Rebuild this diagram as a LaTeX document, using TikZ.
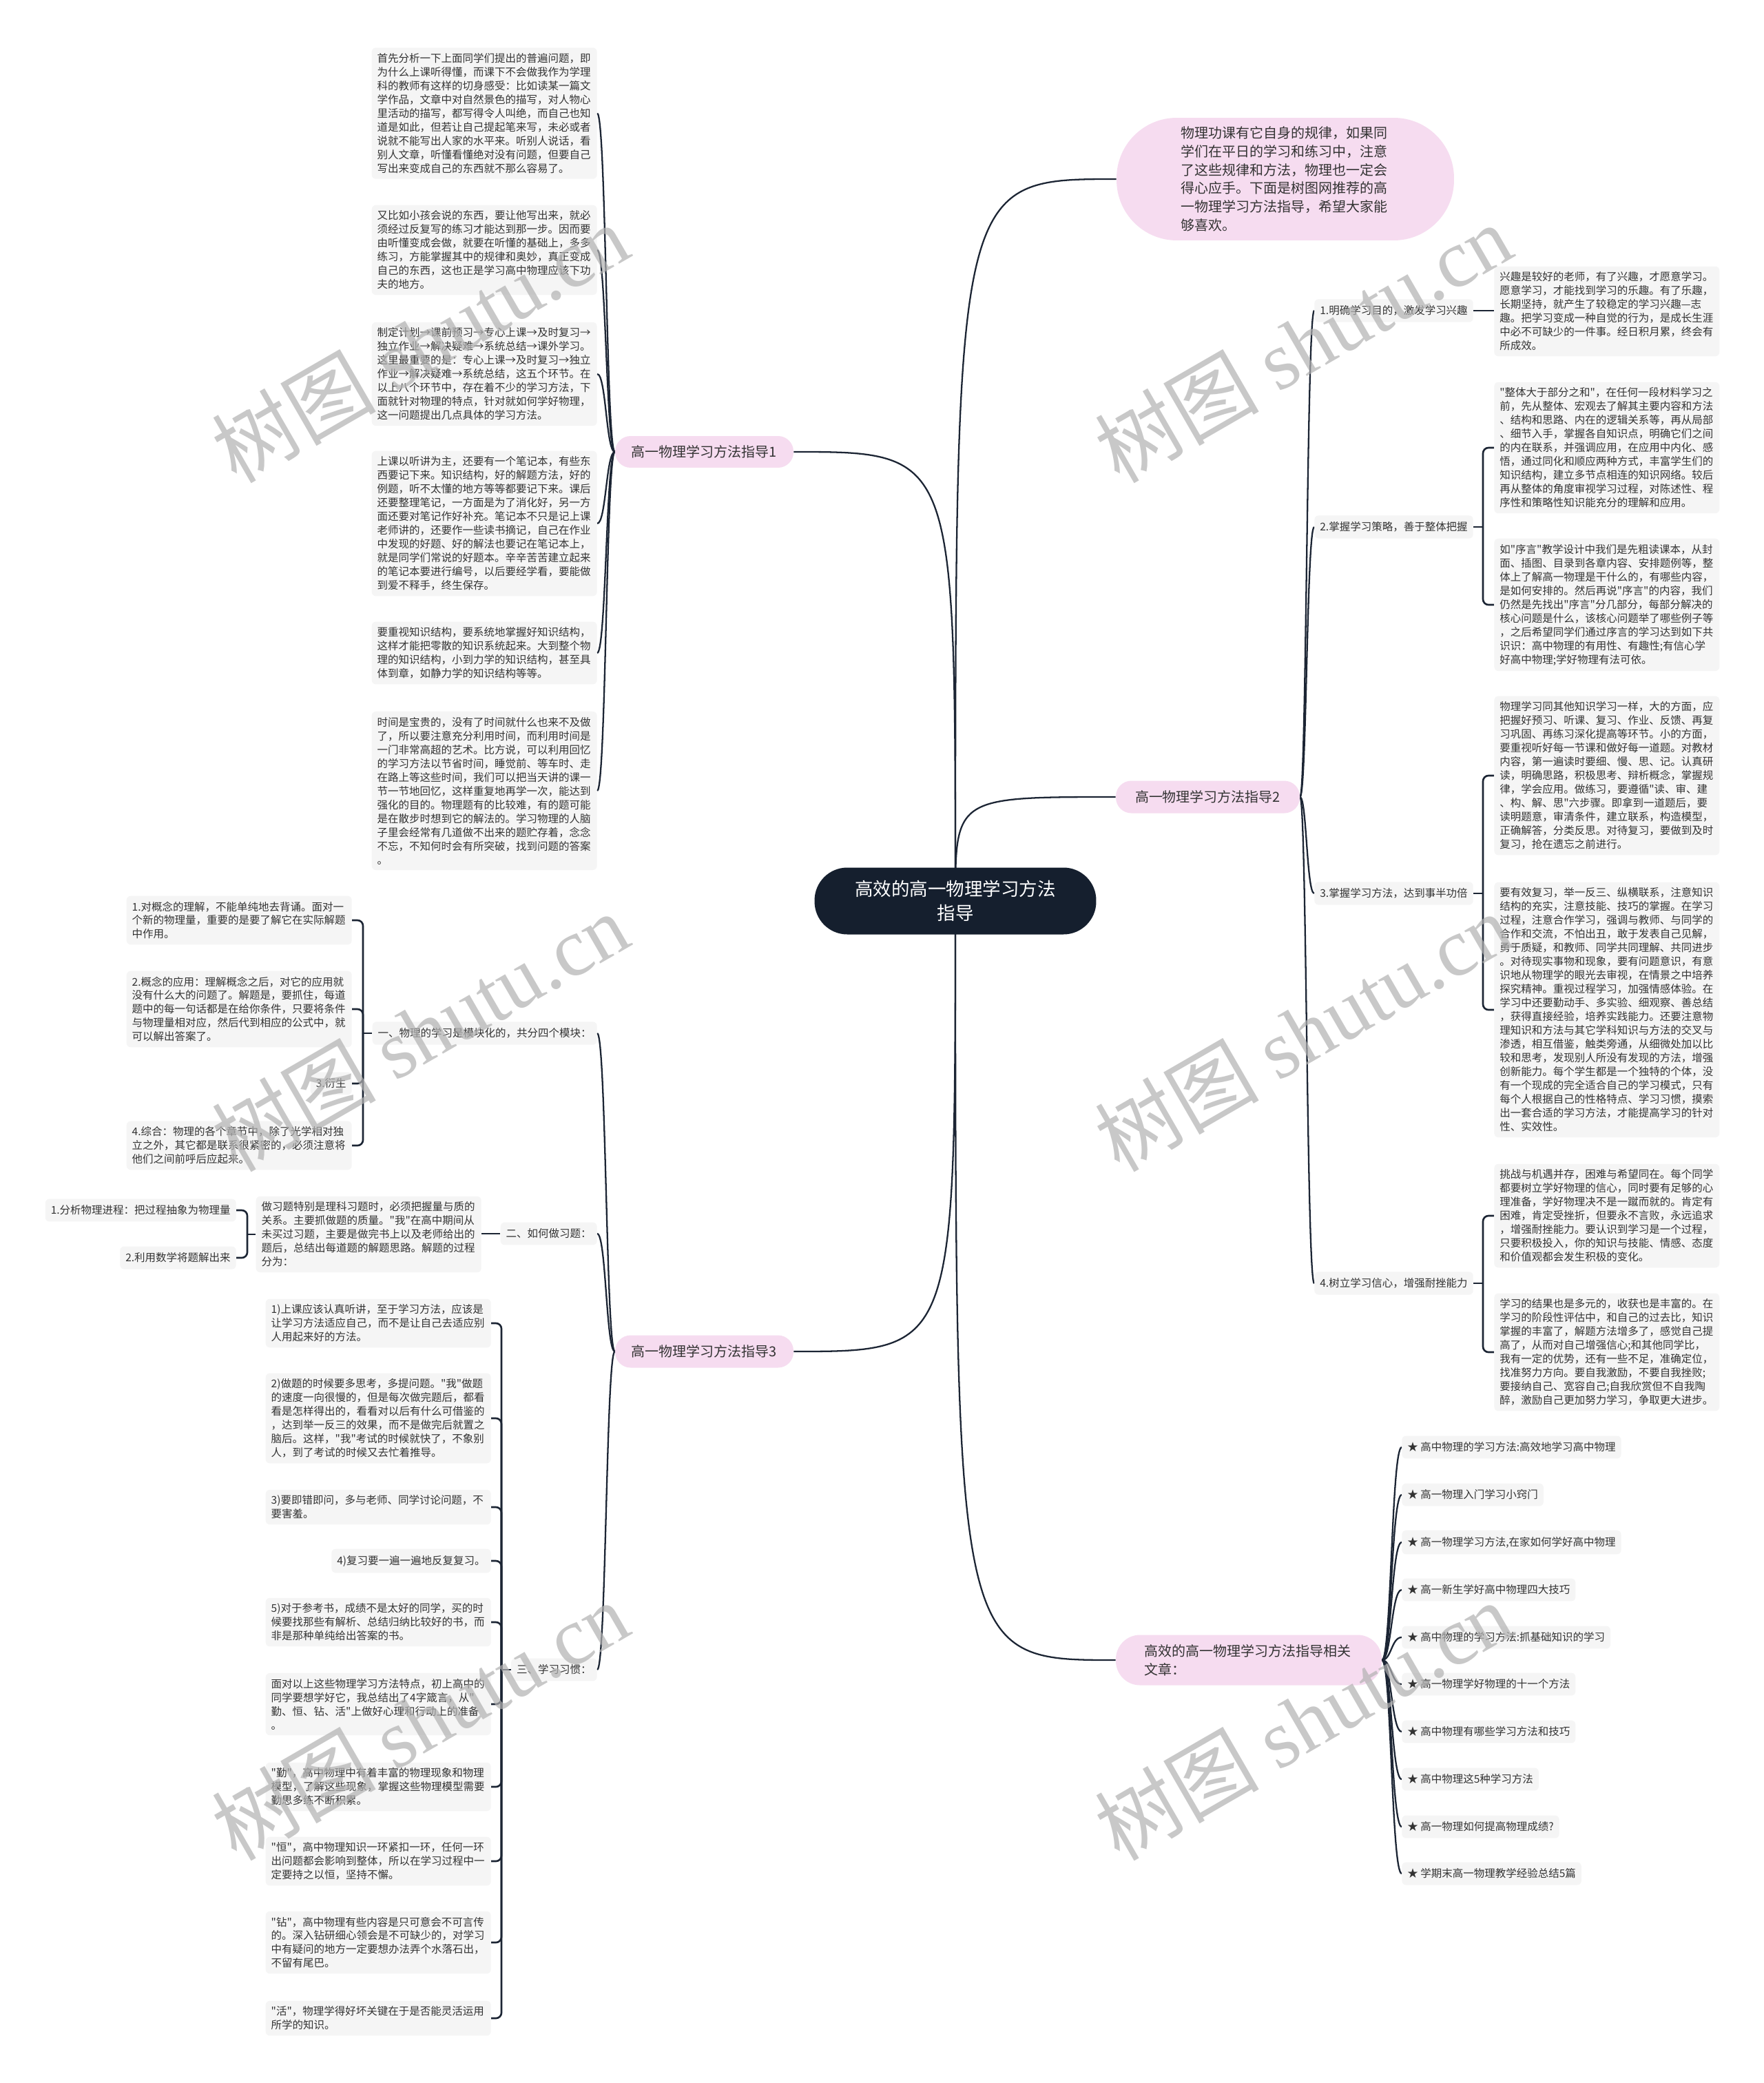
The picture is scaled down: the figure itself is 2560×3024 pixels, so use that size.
\documentclass[tikz,border=0pt]{standalone}
\usepackage{fontspec}
\newfontfamily\cjkf{Noto Sans CJK SC}
\newfontfamily\wmlatin{Liberation Serif}
\usetikzlibrary{calc}
\definecolor{pinkf}{RGB}{246,220,240}
\definecolor{boxg}{RGB}{245,245,245}
\definecolor{txt}{RGB}{51,51,51}
\definecolor{lnc}{RGB}{28,37,52}
\definecolor{navy}{RGB}{21,31,46}
\pgfdeclarelayer{bg}
\pgfsetlayers{bg,main}
\newcommand\bodyf{\cjkf\fontsize{8.82pt}{11.38pt}\selectfont}
\newcommand\pillf{\cjkf\fontsize{11.38pt}{15.2pt}\selectfont}
\newcommand\rootf{\cjkf\fontsize{15.08pt}{19.92pt}\selectfont}
\newcommand\wmf{\cjkf\fontsize{68pt}{68pt}\selectfont}
\newcommand\myscurve[3]{\draw[conn] (#1) .. controls (#2 |- #1) and (#2 |- #3) .. (#3);}
\newcommand\mybrk[3]{\draw[brk, rounded corners=0.16cm] (#2 |- #1) |- (#3);}
\newcommand\mystub[2]{\draw[brk] (#1) -- (#2 |- #1);}
\tikzset{
 conn/.style={draw=lnc, line width=1.3pt},
 brk/.style={draw=lnc, line width=1.5pt},
 pinkpill/.style={fill=pinkf, text=txt, font=\pillf, inner sep=0pt},
 lbl/.style={fill=boxg, text=txt, font=\bodyf, rounded corners=0.12cm, inner xsep=0.16cm, inner ysep=0.185cm},
 tbox/.style={fill=boxg, text=txt, font=\bodyf, rounded corners=0.12cm, inner xsep=0.16cm, inner ysep=0.16cm, align=left, text width=6.22cm},
 wm/.style={text=black!30, opacity=0.7, rotate=30, anchor=base west, inner sep=0pt},
}
\begin{document}
\begin{tikzpicture}[x=0.02cm, y=-0.02cm]
\useasboundingbox (0,0) rectangle (2560,3024);
% ---------- root and first-level ----------
\node[fill=navy, text=white, font=\rootf, rounded corners=0.95cm, minimum width=8.18cm, minimum height=1.94cm, align=center, inner sep=0pt] (root) at (1387,1308) {高效的高一物理学习方法\\指导};
\node[pinkpill, rounded corners=1.75cm, minimum width=9.8cm, minimum height=3.56cm, align=left, text width=6.05cm] (intro) at (1866,260) {物理功课有它自身的规律，如果同\\学们在平日的学习和练习中，注意\\了这些规律和方法，物理也一定会\\得心应手。下面是树图网推荐的高\\一物理学习方法指导，希望大家能\\够喜欢。};
\node[pinkpill, rounded corners=0.45cm, minimum width=5.34cm, minimum height=0.94cm] (zd2) at (1753.5,1157) {高一物理学习方法指导2};
\node[pinkpill, rounded corners=0.7cm, minimum width=7.72cm, minimum height=1.46cm, align=left, text width=6.05cm] (rel) at (1813,2410) {高效的高一物理学习方法指导相关\\文章：};
\node[pinkpill, rounded corners=0.45cm, minimum width=5.18cm, minimum height=0.92cm] (zd1) at (1022.5,656) {高一物理学习方法指导1};
\node[pinkpill, rounded corners=0.45cm, minimum width=5.18cm, minimum height=0.94cm] (zd3) at (1022.5,1962) {高一物理学习方法指导3};
% ---------- right: 指导2 ----------
\node[lbl, anchor=west] (s1) at (1908,451) {1.明确学习目的，激发学习兴趣};
\node[lbl, anchor=west] (s2) at (1908,765) {2.掌握学习策略，善于整体把握};
\node[lbl, anchor=west] (s3) at (1908,1297) {3.掌握学习方法，达到事半功倍};
\node[lbl, anchor=west] (s4) at (1908,1863) {4.树立学习信心，增强耐挫能力};
\node[tbox, anchor=west] (r1) at (2169,452) {兴趣是较好的老师，有了兴趣，才愿意学习。\\愿意学习，才能找到学习的乐趣。有了乐趣，\\长期坚持，就产生了较稳定的学习兴趣—志\\趣。把学习变成一种自觉的行为，是成长生涯\\中必不可缺少的一件事。经日积月累，终会有\\所成效。};
\node[tbox, anchor=west] (r2a) at (2169,650) {"整体大于部分之和"，在任何一段材料学习之\\前，先从整体、宏观去了解其主要内容和方法\\、结构和思路、内在的逻辑关系等，再从局部\\、细节入手，掌握各自知识点，明确它们之间\\的内在联系，并强调应用，在应用中内化、感\\悟，通过同化和顺应两种方式，丰富学生们的\\知识结构，建立多节点相连的知识网络。较后\\再从整体的角度审视学习过程，对陈述性、程\\序性和策略性知识能充分的理解和应用。};
\node[tbox, anchor=west] (r2b) at (2169,878) {如"序言"教学设计中我们是先粗读课本，从封\\面、插图、目录到各章内容、安排题例等，整\\体上了解高一物理是干什么的，有哪些内容，\\是如何安排的。然后再说"序言"的内容，我们\\仍然是先找出"序言"分几部分，每部分解决的\\核心问题是什么，该核心问题举了哪些例子等\\，之后希望同学们通过序言的学习达到如下共\\识识：高中物理的有用性、有趣性;有信心学\\好高中物理;学好物理有法可依。};
\node[tbox, anchor=west] (r3a) at (2169,1126) {物理学习同其他知识学习一样，大的方面，应\\把握好预习、听课、复习、作业、反馈、再复\\习巩固、再练习深化提高等环节。小的方面，\\要重视听好每一节课和做好每一道题。对教材\\内容，第一遍读时要细、慢、思、记。认真研\\读，明确思路，积极思考、辩析概念，掌握规\\律，学会应用。做练习，要遵循"读、审、建\\、构、解、思"六步骤。即拿到一道题后，要\\读明题意，审清条件，建立联系，构造模型，\\正确解答，分类反思。对待复习，要做到及时\\复习，抢在遗忘之前进行。};
\node[tbox, anchor=west] (r3b) at (2169,1466) {要有效复习，举一反三、纵横联系，注意知识\\结构的充实，注意技能、技巧的掌握。在学习\\过程，注意合作学习，强调与教师、与同学的\\合作和交流，不怕出丑，敢于发表自己见解，\\勇于质疑，和教师、同学共同理解、共同进步\\。对待现实事物和现象，要有问题意识，有意\\识地从物理学的眼光去审视，在情景之中培养\\探究精神。重视过程学习，加强情感体验。在\\学习中还要勤动手、多实验、细观察、善总结\\，获得直接经验，培养实践能力。还要注意物\\理知识和方法与其它学科知识与方法的交叉与\\渗透，相互借鉴，触类旁通，从细微处加以比\\较和思考，发现别人所没有发现的方法，增强\\创新能力。每个学生都是一个独特的个体，没\\有一个现成的完全适合自己的学习模式，只有\\每个人根据自己的性格特点、学习习惯，摸索\\出一套合适的学习方法，才能提高学习的针对\\性、实效性。};
\node[tbox, anchor=west] (r4a) at (2169,1765) {挑战与机遇并存，困难与希望同在。每个同学\\都要树立学好物理的信心，同时要有足够的心\\理准备，学好物理决不是一蹴而就的。肯定有\\困难，肯定受挫折，但要永不言败，永远追求\\，增强耐挫能力。要认识到学习是一个过程，\\只要积极投入，你的知识与技能、情感、态度\\和价值观都会发生积极的变化。};
\node[tbox, anchor=west] (r4b) at (2169,1963) {学习的结果也是多元的，收获也是丰富的。在\\学习的阶段性评估中，和自己的过去比，知识\\掌握的丰富了，解题方法增多了，感觉自己提\\高了，从而对自己增强信心;和其他同学比，\\我有一定的优势，还有一些不足，准确定位，\\找准努力方向。要自我激励，不要自我挫败;\\要接纳自己、宽容自己;自我欣赏但不自我陶\\醉，激励自己更加努力学习，争取更大进步。};
% ---------- right: related ----------
\node[lbl, anchor=west] (i1) at (2035,2101) {★ 高中物理的学习方法:高效地学习高中物理};
\node[lbl, anchor=west] (i2) at (2035,2170) {★ 高一物理入门学习小窍门};
\node[lbl, anchor=west] (i3) at (2035,2239) {★ 高一物理学习方法,在家如何学好高中物理};
\node[lbl, anchor=west] (i4) at (2035,2308) {★ 高一新生学好高中物理四大技巧};
\node[lbl, anchor=west] (i5) at (2035,2377) {★ 高中物理的学习方法:抓基础知识的学习};
\node[lbl, anchor=west] (i6) at (2035,2445) {★ 高一物理学好物理的十一个方法};
\node[lbl, anchor=west] (i7) at (2035,2514) {★ 高中物理有哪些学习方法和技巧};
\node[lbl, anchor=west] (i8) at (2035,2583) {★ 高中物理这5种学习方法};
\node[lbl, anchor=west] (i9) at (2035,2652) {★ 高一物理如何提高物理成绩?};
\node[lbl, anchor=west] (i10) at (2035,2720) {★ 学期末高一物理教学经验总结5篇};
% ---------- left: 指导1 ----------
\node[tbox, anchor=east] (L1a) at (867,164.5) {首先分析一下上面同学们提出的普遍问题，即\\为什么上课听得懂，而课下不会做我作为学理\\科的教师有这样的切身感受：比如读某一篇文\\学作品，文章中对自然景色的描写，对人物心\\里活动的描写，都写得令人叫绝，而自己也知\\道是如此，但若让自己提起笔来写，未必或者\\说就不能写出人家的水平来。听别人说话，看\\别人文章，听懂看懂绝对没有问题，但要自己\\写出来变成自己的东西就不那么容易了。};
\node[tbox, anchor=east] (L1b) at (867,363) {又比如小孩会说的东西，要让他写出来，就必\\须经过反复写的练习才能达到那一步。因而要\\由听懂变成会做，就要在听懂的基础上，多多\\练习，方能掌握其中的规律和奥妙，真正变成\\自己的东西，这也正是学习高中物理应该下功\\夫的地方。};
\node[tbox, anchor=east] (L1c) at (867,543) {制定计划→课前预习→专心上课→及时复习→\\独立作业→解决疑难→系统总结→课外学习。\\这里最重要的是：专心上课→及时复习→独立\\作业→解决疑难→系统总结，这五个环节。在\\以上八个环节中，存在着不少的学习方法，下\\面就针对物理的特点，针对就如何学好物理，\\这一问题提出几点具体的学习方法。};
\node[tbox, anchor=east] (L1d) at (867,760) {上课以听讲为主，还要有一个笔记本，有些东\\西要记下来。知识结构，好的解题方法，好的\\例题，听不太懂的地方等等都要记下来。课后\\还要整理笔记，一方面是为了消化好，另一方\\面还要对笔记作好补充。笔记本不只是记上课\\老师讲的，还要作一些读书摘记，自己在作业\\中发现的好题、好的解法也要记在笔记本上，\\就是同学们常说的好题本。辛辛苦苦建立起来\\的笔记本要进行编号，以后要经学看，要能做\\到爱不释手，终生保存。};
\node[tbox, anchor=east] (L1e) at (867,948) {要重视知识结构，要系统地掌握好知识结构，\\这样才能把零散的知识系统起来。大到整个物\\理的知识结构，小到力学的知识结构，甚至具\\体到章，如静力学的知识结构等等。};
\node[tbox, anchor=east] (L1f) at (867,1148) {时间是宝贵的，没有了时间就什么也来不及做\\了，所以要注意充分利用时间，而利用时间是\\一门非常高超的艺术。比方说，可以利用回忆\\的学习方法以节省时间，睡觉前、等车时、走\\在路上等这些时间，我们可以把当天讲的课一\\节一节地回忆，这样重复地再学一次，能达到\\强化的目的。物理题有的比较难，有的题可能\\是在散步时想到它的解法的。学习物理的人脑\\子里会经常有几道做不出来的题贮存着，念念\\不忘，不知何时会有所突破，找到问题的答案\\。};
% ---------- left: 指导3 ----------
\node[lbl, anchor=east] (la) at (867,1500) {一、物理的学习是模块化的，共分四个模块：};
\node[lbl, anchor=east] (lb) at (867,1791) {二、如何做习题：};
\node[lbl, anchor=east] (lc) at (867,2424) {三、学习习惯：};
\node[tbox, anchor=east] (A1) at (511,1336) {1.对概念的理解，不能单纯地去背诵。面对一\\个新的物理量，重要的是要了解它在实际解题\\中作用。};
\node[tbox, anchor=east] (A2) at (511,1465) {2.概念的应用：理解概念之后，对它的应用就\\没有什么大的问题了。解题是，要抓住，每道\\题中的每一句话都是在给你条件，只要将条件\\与物理量相对应，然后代到相应的公式中，就\\可以解出答案了。};
\node[lbl, anchor=east] (A3) at (511,1573) {3.衍生};
\node[tbox, anchor=east] (A4) at (511,1663) {4.综合：物理的各个章节中，除了光学相对独\\立之外，其它都是联系很紧密的，必须注意将\\他们之间前呼后应起来。};
\node[tbox, anchor=east] (B) at (699,1792) {做习题特别是理科习题时，必须把握量与质的\\关系。主要抓做题的质量。"我"在高中期间从\\未买过习题，主要是做完书上以及老师给出的\\题后，总结出每道题的解题思路。解题的过程\\分为：};
\node[lbl, anchor=east] (b1) at (343,1757) {1.分析物理进程：把过程抽象为物理量};
\node[lbl, anchor=east] (b2) at (343,1826) {2.利用数学将题解出来};
\node[tbox, anchor=east] (C1) at (713,1921) {1)上课应该认真听讲，至于学习方法，应该是\\让学习方法适应自己，而不是让自己去适应别\\人用起来好的方法。};
\node[tbox, anchor=east] (C2) at (713,2059) {2)做题的时候要多思考，多提问题。"我"做题\\的速度一向很慢的，但是每次做完题后，都看\\看是怎样得出的，看看对以后有什么可借鉴的\\，达到举一反三的效果，而不是做完后就置之\\脑后。这样，"我"考试的时候就快了，不象别\\人，到了考试的时候又去忙着推导。};
\node[tbox, anchor=east] (C3) at (713,2188) {3)要即错即问，多与老师、同学讨论问题，不\\要害羞。};
\node[lbl, anchor=east] (C4) at (713,2266) {4)复习要一遍一遍地反复复习。};
\node[tbox, anchor=east] (C5) at (713,2355) {5)对于参考书，成绩不是太好的同学，买的时\\候要找那些有解析、总结归纳比较好的书，而\\非是那种单纯给出答案的书。};
\node[tbox, anchor=east] (C6) at (713,2474) {面对以上这些物理学习方法特点，初上高中的\\同学要想学好它，我总结出了4字箴言，从"\\勤、恒、钻、活"上做好心理和行动上的准备\\。};
\node[tbox, anchor=east] (C7) at (713,2594) {"勤"，高中物理中有着丰富的物理现象和物理\\模型，了解这些现象，掌握这些物理模型需要\\勤思多练不断积累。};
\node[tbox, anchor=east] (C8) at (713,2702) {"恒"，高中物理知识一环紧扣一环，任何一环\\出问题都会影响到整体，所以在学习过程中一\\定要持之以恒，坚持不懈。};
\node[tbox, anchor=east] (C9) at (713,2820) {"钻"，高中物理有些内容是只可意会不可言传\\的。深入钻研细心领会是不可缺少的，对学习\\中有疑问的地方一定要想办法弄个水落石出，\\不留有尾巴。};
\node[tbox, anchor=east] (C10) at (713,2930) {"活"，物理学得好坏关键在于是否能灵活运用\\所学的知识。};
% ---------- bus coordinates ----------
\coordinate (busR) at (1897,0);
\coordinate (busRel) at (2020,0);
\coordinate (busL) at (880,0);
\coordinate (brR) at (2153,0);
\coordinate (brA) at (527,0);
\coordinate (brB) at (359,0);
\coordinate (brC) at (728,0);
% ---------- connectors ----------
\begin{pgfonlayer}{bg}
\fill[white] (0,0) rectangle (2560,3024);
\draw[conn] (root.center) .. controls (root.center |- intro.west) .. (intro.west);
\draw[conn] (root.center) .. controls (root.center |- zd2.west) .. (zd2.west);
\draw[conn] (root.center) .. controls (root.center |- rel.west) .. (rel.west);
\draw[conn] (root.center) .. controls (root.center |- zd1.east) .. (zd1.east);
\draw[conn] (root.center) .. controls (root.center |- zd3.east) .. (zd3.east);
\myscurve{zd2.east}{busR}{s1.west}
\myscurve{zd2.east}{busR}{s2.west}
\myscurve{zd2.east}{busR}{s3.west}
\myscurve{zd2.east}{busR}{s4.west}
\foreach \i in {1,...,10} {\myscurve{rel.east}{busRel}{i\i.west}}
\foreach \n in {L1a,L1b,L1c,L1d,L1e,L1f} {\myscurve{zd1.west}{busL}{\n.east}}
\foreach \n in {la,lb,lc} {\myscurve{zd3.west}{busL}{\n.east}}
\draw[brk] (s1.east) -- (r1.west |- s1.east);
\mystub{s2.east}{brR}
\mybrk{s2.east}{brR}{r2a.west}
\mybrk{s2.east}{brR}{r2b.west}
\mystub{s3.east}{brR}
\mybrk{s3.east}{brR}{r3a.west}
\mybrk{s3.east}{brR}{r3b.west}
\mystub{s4.east}{brR}
\mybrk{s4.east}{brR}{r4a.west}
\mybrk{s4.east}{brR}{r4b.west}
\mystub{la.west}{brA}
\foreach \n in {A1,A2,A3,A4} {\mybrk{la.west}{brA}{\n.east}}
\draw[brk] (lb.west) -- (B.east |- lb.west);
\mystub{B.west}{brB}
\mybrk{B.west}{brB}{b1.east}
\mybrk{B.west}{brB}{b2.east}
\mystub{lc.west}{brC}
\foreach \n in {C1,C2,C3,C4,C5,C6,C7,C8,C9,C10} {\mybrk{lc.west}{brC}{\n.east}}
\end{pgfonlayer}
% ---------- watermarks ----------
\foreach \wx/\wy [count=\k] in {343/704, 1625/704, 343/1704, 1625/1704, 343/2704, 1625/2704} {
  \node[wm] (wm\k) at (\wx,\wy) {\wmf 树图 {\wmlatin shutu.cn}};
}
\end{tikzpicture}
\end{document}
